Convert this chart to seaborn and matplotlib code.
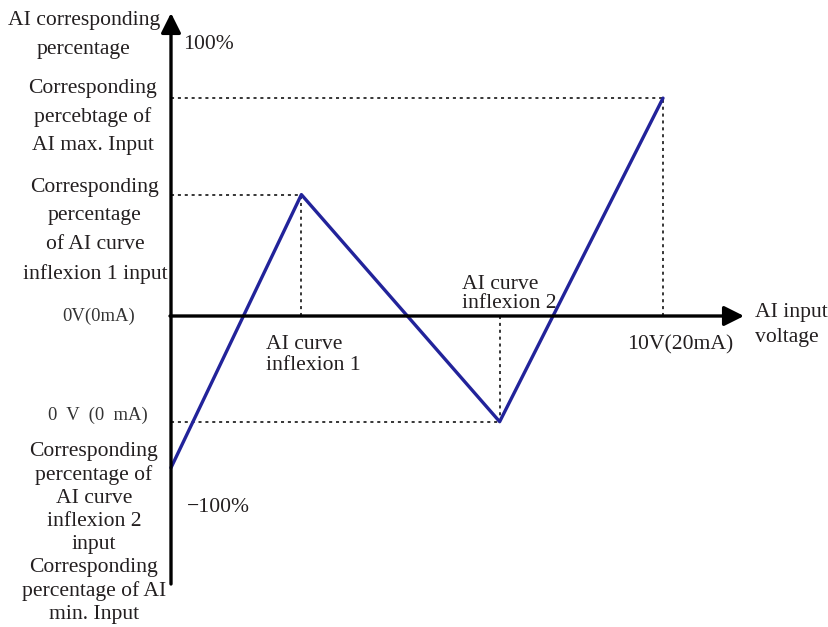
import matplotlib.pyplot as plt
import seaborn as sns
import pandas as pd

# AI curve: input voltage (V) vs corresponding percentage (%)
input_voltage = [0.0, 2.65, 6.68, 10.0]
percentage = [-56.0, 44.8, -39.0, 80.4]
point_names = ['AI min. input', 'inflexion 1', 'inflexion 2', 'AI max. input']

sns.set_theme(style='white')
plt.rcParams['font.family'] = ['Liberation Serif', 'Noto Sans CJK SC', 'DejaVu Sans']

df = pd.DataFrame({'voltage': input_voltage, 'pct': percentage, 'name': point_names})

# pixel mapping: x0=171px, 49.2 px/V ; y0=316px, 2.71 px/%
PX_V, PX_P = 49.2, 2.71
X0, Y0 = 171, 316
W, H = 829, 627

fig = plt.figure(figsize=(W / 100, H / 100), dpi=100)
ax = fig.add_axes([0, 0, 1, 1])
ax.set_xlim(-X0 / PX_V, (W - X0) / PX_V)
ax.set_ylim((Y0 - H) / PX_P, Y0 / PX_P)
ax.axis('off')


def px(x, y):
    # pixel position -> data coordinates (for text placement)
    return (x - X0) / PX_V, (Y0 - y) / PX_P


# axes with arrow heads
arrow = dict(arrowstyle='-|>,head_length=1.2,head_width=0.6', mutation_scale=10,
             lw=2.4, color='black', shrinkA=0, shrinkB=0)
ax.annotate('', xy=px(171, 13), xytext=px(171, 584), arrowprops=arrow)
ax.annotate('', xy=px(744, 316), xytext=px(170, 316), arrowprops=arrow)

# dotted guide lines from each inner/max point
for v, p in zip(input_voltage[1:], percentage[1:]):
    ax.plot([0, v], [p, p], color='black', lw=1.1, ls=(0, (2, 2.5)))
    ax.plot([v, v], [0, p], color='black', lw=1.1, ls=(0, (2, 2.5)))

sns.lineplot(data=df, x='voltage', y='pct', ax=ax, color='#22239a',
             lw=2.4, sort=False, legend=False)

fs = 15.6
txt = dict(color='#231f20', fontsize=fs)
mono = dict(color='#333333', fontsize=13.4, family=['Liberation Serif'])

ax.text(*px(84, 35), 'AI corresponding\npercentage', ha='center', va='center',
        linespacing=1.66, **txt)
ax.text(*px(183, 45), '100%', ha='left', va='center', **txt)
ax.text(*px(93, 117), 'Corresponding\npercebtage of\nAI max. Input', ha='center',
        va='center', linespacing=1.6, **txt)
ax.text(*px(95, 231), 'Corresponding\npercentage\nof AI curve\ninflexion 1 input',
        ha='center', va='center', linespacing=1.7, **txt)
ax.text(*px(99, 316), '0V(0mA)', ha='center', va='center', **mono)
ax.text(*px(266, 355), 'AI curve\ninflexion 1', ha='left', va='center',
        linespacing=1.16, **txt)
ax.text(*px(462, 294), 'AI curve\ninflexion 2', ha='left', va='center',
        linespacing=0.98, **txt)
ax.text(*px(755, 325), 'AI input\nvoltage', ha='left', va='center',
        linespacing=1.38, **txt)
ax.text(*px(627, 345), '10V(20mA)', ha='left', va='center', **txt)
ax.text(*px(98, 415), '0  V  (0  mA)', ha='center', va='center', **mono)
ax.text(*px(94, 533), 'Corresponding\npercentage of\nAI curve\ninflexion 2\ninput\n'
        'Corresponding\npercentage of AI\nmin. Input', ha='center', va='center',
        linespacing=1.28, **txt)
ax.text(*px(187, 508), '−100%', ha='left', va='center', **txt)

fig.savefig('out.png', dpi=100)
